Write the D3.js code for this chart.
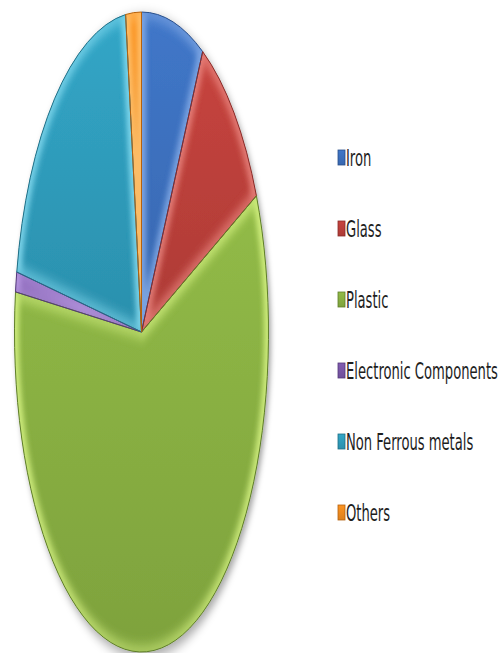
<!DOCTYPE html>
<html>
<head>
<meta charset="utf-8">
<script src="https://cdn.jsdelivr.net/npm/d3@7"></script>
<style>
  body { margin: 0; background: #fff; }
  svg { display: block; }
</style>
</head>
<body>
<div id="main"></div>
<script>
const width = 503;
const height = 653;

const categories = [
  "Iron",
  "Glass",
  "Plastic",
  "Electronic Components",
  "Non Ferrous metals",
  "Others",
];
const values = [8, 10, 59, 1, 20, 2];
const sliceColors = ["#3d71bf", "#bd403b", "#8ab143", "#7a57a8", "#2f9dbd", "#f08c1f"];
const lightColors = ["#8ab0ea", "#ec8a84", "#dcf888", "#c3a4ec", "#8ce0f4", "#ffc878"];
const darkColors = ["#2a4f8a", "#8a2b28", "#5f7e2a", "#54397a", "#1f6f86", "#b5620f"];

// pie is an ellipse: stretched vertically
const cx = 141.5, cy = 332, rx = 127, ry = 320;

let svg = d3
  .select("#main")
  .append("svg")
  .attr("width", width)
  .attr("height", height);

let defs = svg.append("defs");

let shadow = defs.append("filter").attr("id", "shadow")
  .attr("x", "-20%").attr("y", "-20%").attr("width", "140%").attr("height", "140%");
shadow.append("feDropShadow")
  .attr("dx", 2).attr("dy", 2).attr("stdDeviation", 2.5)
  .attr("flood-color", "#000").attr("flood-opacity", 0.35);

let soft = defs.append("filter").attr("id", "soft");
soft.append("feGaussianBlur").attr("stdDeviation", 2.5);

categories.forEach((c, i) => {
  let g = defs.append("linearGradient").attr("id", `grad${i}`)
    .attr("x1", 0).attr("y1", 0).attr("x2", 0).attr("y2", 1);
  g.append("stop").attr("offset", "0%").attr("stop-color", d3.color(sliceColors[i]).brighter(0.15));
  g.append("stop").attr("offset", "100%").attr("stop-color", d3.color(sliceColors[i]).darker(0.25));
});

const pie = d3.pie().sort(null).value((d) => d);
const arcs = pie(values);
const arc = d3.arc().innerRadius(0).outerRadius(rx);

let pieG = svg.append("g")
  .attr("transform", `translate(${cx},${cy}) scale(1,${ry / rx})`)
  .attr("filter", "url(#shadow)");

arcs.forEach((a, i) => {
  defs.append("clipPath").attr("id", `clip${i}`)
    .append("path").attr("d", arc(a));
});

pieG.selectAll(".slice")
  .data(arcs)
  .enter()
  .append("path")
  .attr("class", "slice")
  .attr("d", arc)
  .attr("fill", (d, i) => `url(#grad${i})`);

// bevel highlight along slice edges
pieG.selectAll(".bevel")
  .data(arcs)
  .enter()
  .append("g")
  .attr("clip-path", (d, i) => `url(#clip${i})`)
  .append("path")
  .attr("class", "bevel")
  .attr("d", arc)
  .attr("fill", "none")
  .attr("stroke", (d, i) => lightColors[i])
  .attr("stroke-width", 9)
  .attr("vector-effect", "non-scaling-stroke")
  .attr("opacity", 0.8)
  .attr("filter", "url(#soft)");

pieG.selectAll(".edge")
  .data(arcs)
  .enter()
  .append("path")
  .attr("class", "edge")
  .attr("d", arc)
  .attr("fill", "none")
  .attr("stroke", (d, i) => darkColors[i])
  .attr("stroke-width", 1)
  .attr("vector-effect", "non-scaling-stroke");

// legend
const legendY = d3.scalePoint().domain(categories).range([166, 521]);

let legend = svg.append("g").attr("class", "legend");

let items = legend.selectAll(".item")
  .data(categories)
  .enter()
  .append("g")
  .attr("class", "item")
  .attr("transform", (d) => `translate(338,${legendY(d)})`);

items.append("rect")
  .attr("x", 0)
  .attr("y", -16)
  .attr("width", 7)
  .attr("height", 15)
  .attr("fill", (d, i) => `url(#grad${i})`)
  .attr("stroke", (d, i) => darkColors[i])
  .attr("stroke-width", 0.8);

let labels = items.append("text")
  .attr("x", 0)
  .attr("y", 0)
  .attr("font-family", "'Liberation Sans Narrow', 'DejaVu Sans Condensed', 'Liberation Sans', sans-serif")
  .attr("font-size", 23)
  .attr("fill", "#1e1e1e")
  .text((d) => d);

// squeeze the labels horizontally like the source
let widest = d3.max(labels.nodes(), (n) => n.getComputedTextLength());
let sx = 152 / widest;
labels.attr("transform", `translate(8,0) scale(${sx},1)`);
</script>
</body>
</html>
